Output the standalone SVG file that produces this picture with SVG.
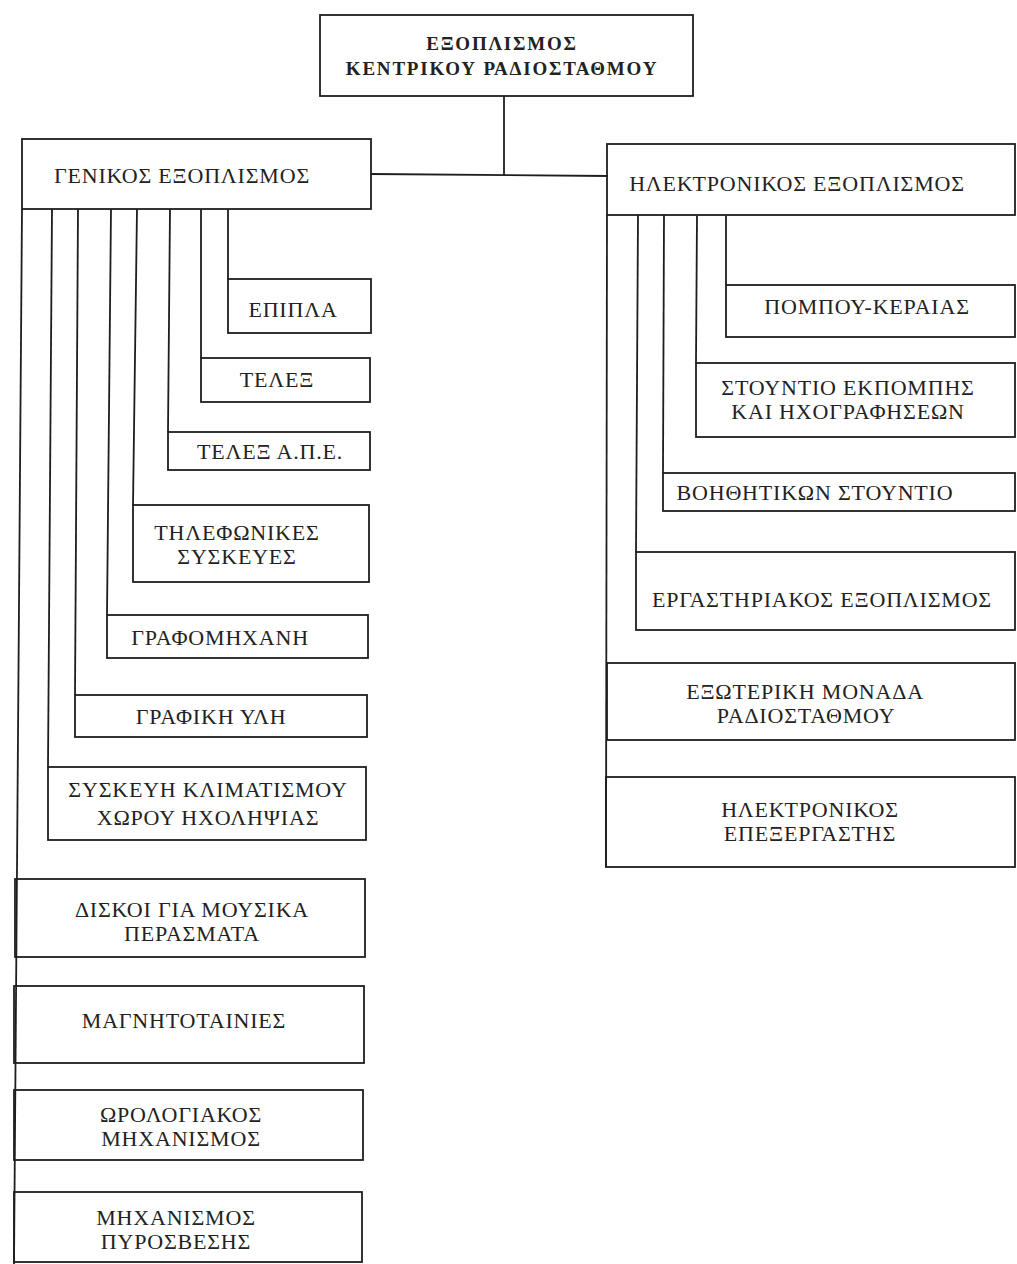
<svg xmlns="http://www.w3.org/2000/svg" width="1017" height="1264" viewBox="0 0 1017 1264">
<style>
.box{fill:none;stroke:#1e1e1e;stroke-width:1.8}
.ln{fill:none;stroke:#1e1e1e;stroke-width:1.8}
.t{font-family:"Liberation Serif","DejaVu Serif",serif;font-size:22px;fill:#222;text-anchor:middle;letter-spacing:0.8px}
.tb{font-family:"Liberation Serif","DejaVu Serif",serif;font-size:19px;font-weight:bold;fill:#222;text-anchor:middle;letter-spacing:1.8px}
</style>
<rect width="1017" height="1264" fill="#ffffff"/>
<g id="connectors">
<line class="ln" x1="504" y1="96" x2="504" y2="175"/>
<line class="ln" x1="371" y1="174" x2="608" y2="176"/>
<line class="ln" x1="22" y1="209" x2="14" y2="1264"/>
<line class="ln" x1="52" y1="209" x2="48" y2="767"/>
<line class="ln" x1="78" y1="209" x2="75" y2="695"/>
<line class="ln" x1="111" y1="209" x2="107" y2="615"/>
<line class="ln" x1="137" y1="209" x2="133" y2="505"/>
<line class="ln" x1="170" y1="209" x2="168" y2="432"/>
<line class="ln" x1="201" y1="209" x2="201" y2="358"/>
<line class="ln" x1="228" y1="209" x2="228" y2="279"/>
<line class="ln" x1="607" y1="214" x2="606" y2="867"/>
<line class="ln" x1="638" y1="215" x2="636" y2="552"/>
<line class="ln" x1="664" y1="215" x2="663" y2="473"/>
<line class="ln" x1="697" y1="216" x2="696" y2="363"/>
<line class="ln" x1="726" y1="216" x2="726" y2="285"/>
</g>
<g id="n-root">
<rect class="box" x="320" y="15" width="373" height="81"/>
<text class="tb" x="502" y="50">ΕΞΟΠΛΙΣΜΟΣ</text>
<text class="tb" x="502" y="75">ΚΕΝΤΡΙΚΟΥ ΡΑΔΙΟΣΤΑΘΜΟΥ</text>
</g>
<g id="n-geniko">
<rect class="box" x="22" y="139" width="349" height="70"/>
<text class="t" x="182" y="183">ΓΕΝΙΚΟΣ ΕΞΟΠΛΙΣΜΟΣ</text>
</g>
<g id="n-ilektroniko">
<rect class="box" x="607" y="144" width="408" height="71"/>
<text class="t" x="797" y="191">ΗΛΕΚΤΡΟΝΙΚΟΣ ΕΞΟΠΛΙΣΜΟΣ</text>
</g>
<g id="n-epipla">
<rect class="box" x="228" y="279" width="143" height="54"/>
<text class="t" x="293" y="317">ΕΠΙΠΛΑ</text>
</g>
<g id="n-telex">
<rect class="box" x="201" y="358" width="169" height="44"/>
<text class="t" x="277" y="387">ΤΕΛΕΞ</text>
</g>
<g id="n-telex-ape">
<rect class="box" x="168" y="432" width="202" height="38"/>
<text class="t" x="270" y="459">ΤΕΛΕΞ Α.Π.Ε.</text>
</g>
<g id="n-tilefonikes">
<rect class="box" x="133" y="505" width="236" height="77"/>
<text class="t" x="237" y="540">ΤΗΛΕΦΩΝΙΚΕΣ</text>
<text class="t" x="237" y="564">ΣΥΣΚΕΥΕΣ</text>
</g>
<g id="n-grafomixani">
<rect class="box" x="107" y="615" width="261" height="43"/>
<text class="t" x="220" y="645">ΓΡΑΦΟΜΗΧΑΝΗ</text>
</g>
<g id="n-grafiki-yli">
<rect class="box" x="75" y="695" width="292" height="42"/>
<text class="t" x="211" y="724">ΓΡΑΦΙΚΗ ΥΛΗ</text>
</g>
<g id="n-klimatismos">
<rect class="box" x="48" y="767" width="318" height="73"/>
<text class="t" x="208" y="797">ΣΥΣΚΕΥΗ ΚΛΙΜΑΤΙΣΜΟΥ</text>
<text class="t" x="208" y="825">ΧΩΡΟΥ ΗΧΟΛΗΨΙΑΣ</text>
</g>
<g id="n-diskoi">
<rect class="box" x="15" y="879" width="350" height="78"/>
<text class="t" x="192" y="917">ΔΙΣΚΟΙ ΓΙΑ ΜΟΥΣΙΚΑ</text>
<text class="t" x="192" y="941">ΠΕΡΑΣΜΑΤΑ</text>
</g>
<g id="n-magnitotainies">
<rect class="box" x="14" y="986" width="350" height="77"/>
<text class="t" x="184" y="1028">ΜΑΓΝΗΤΟΤΑΙΝΙΕΣ</text>
</g>
<g id="n-orologiakos">
<rect class="box" x="14" y="1090" width="349" height="70"/>
<text class="t" x="181" y="1122">ΩΡΟΛΟΓΙΑΚΟΣ</text>
<text class="t" x="181" y="1146">ΜΗΧΑΝΙΣΜΟΣ</text>
</g>
<g id="n-pyrosvesi">
<rect class="box" x="14" y="1192" width="348" height="70"/>
<text class="t" x="176" y="1225">ΜΗΧΑΝΙΣΜΟΣ</text>
<text class="t" x="176" y="1249">ΠΥΡΟΣΒΕΣΗΣ</text>
</g>
<g id="n-pompou">
<rect class="box" x="726" y="285" width="289" height="52"/>
<text class="t" x="867" y="314">ΠΟΜΠΟΥ-ΚΕΡΑΙΑΣ</text>
</g>
<g id="n-stountio">
<rect class="box" x="696" y="363" width="319" height="74"/>
<text class="t" x="848" y="395">ΣΤΟΥΝΤΙΟ ΕΚΠΟΜΠΗΣ</text>
<text class="t" x="848" y="419">ΚΑΙ ΗΧΟΓΡΑΦΗΣΕΩΝ</text>
</g>
<g id="n-voithitikon">
<rect class="box" x="663" y="473" width="352" height="38"/>
<text class="t" x="815" y="500">ΒΟΗΘΗΤΙΚΩΝ ΣΤΟΥΝΤΙΟ</text>
</g>
<g id="n-ergastiriakos">
<rect class="box" x="636" y="552" width="379" height="78"/>
<text class="t" x="822" y="607">ΕΡΓΑΣΤΗΡΙΑΚΟΣ ΕΞΟΠΛΙΣΜΟΣ</text>
</g>
<g id="n-exoteriki">
<rect class="box" x="607" y="663" width="408" height="77"/>
<text class="t" x="805" y="699">ΕΞΩΤΕΡΙΚΗ ΜΟΝΑΔΑ</text>
<text class="t" x="806" y="723">ΡΑΔΙΟΣΤΑΘΜΟΥ</text>
</g>
<g id="n-epexergastis">
<rect class="box" x="606" y="777" width="409" height="90"/>
<text class="t" x="810" y="817">ΗΛΕΚΤΡΟΝΙΚΟΣ</text>
<text class="t" x="810" y="841">ΕΠΕΞΕΡΓΑΣΤΗΣ</text>
</g>
</svg>
